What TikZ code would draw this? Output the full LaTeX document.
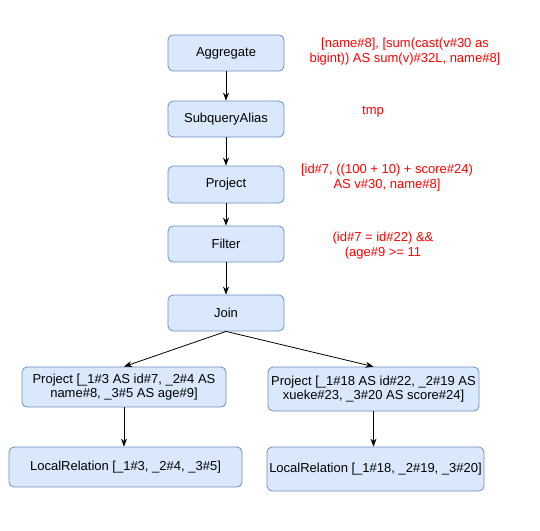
\documentclass[tikz,border=0pt]{standalone}
\usepackage{fontspec}
\setmainfont{Liberation Sans}
\usetikzlibrary{arrows.meta}
\definecolor{boxfill}{HTML}{DAE8FC}
\definecolor{boxline}{HTML}{6C8EBF}
\definecolor{redtxt}{HTML}{FF0000}
\begin{document}
\begin{tikzpicture}[x=1pt,y=-1pt,
  opbox/.style={draw=boxline,fill=boxfill,rounded corners=5pt,line width=0.8pt,align=center,inner sep=0pt,font=\fontsize{13}{14.5}\selectfont},
  note/.style={text=redtxt,align=center,font=\fontsize{13}{15}\selectfont},
  arr/.style={-{Stealth[length=8pt,width=6pt]},line width=0.8pt}]
\useasboundingbox (0,0) rectangle (540,530);
\node[opbox,minimum width=116pt,minimum height=36pt] (agg) at (226,53) {Aggregate};
\node[opbox,minimum width=116pt,minimum height=36pt] (sub) at (226,119) {SubqueryAlias};
\node[opbox,minimum width=116pt,minimum height=37pt] (proj) at (226,184.5) {Project};
\node[opbox,minimum width=116pt,minimum height=36pt] (filt) at (226,244) {Filter};
\node[opbox,minimum width=116pt,minimum height=36pt] (join) at (226,313) {Join};
\node[opbox,minimum width=204pt,minimum height=40pt] (lp) at (124,387) {Project [\_1\#3 AS id\#7, \_2\#4 AS\\name\#8, \_3\#5 AS age\#9]};
\node[opbox,minimum width=211pt,minimum height=44pt] (rp) at (373.5,389) {Project [\_1\#18 AS id\#22, \_2\#19 AS\\xueke\#23, \_3\#20 AS score\#24]};
\node[opbox,minimum width=233pt,minimum height=40pt] (ll) at (125.5,467) {LocalRelation [\_1\#3, \_2\#4, \_3\#5]};
\node[opbox,minimum width=217pt,minimum height=44pt] (rl) at (375.5,469) {LocalRelation [\_1\#18, \_2\#19, \_3\#20]};
\node[note] (nagg) at (405,51.5) {[name\#8], [sum(cast(v\#30 as\\bigint)) AS sum(v)\#32L, name\#8]};
\node[note] (nsub) at (373,112) {tmp};
\node[note] (nproj) at (387,177.5) {[id\#7, ((100 + 10) + score\#24)\\AS v\#30, name\#8]};
\node[note] (nfilt) at (383,245.5) {(id\#7 = id\#22) \&\&\\(age\#9 >= 11};
\draw[arr] (agg) -- (sub);
\draw[arr] (sub) -- (proj);
\draw[arr] (proj) -- (filt);
\draw[arr] (filt) -- (join);
\draw[arr] (join.south) -- (lp.north);
\draw[arr] (join.south) -- (rp.north);
\draw[arr] (lp.south) -- (ll.north -| lp.south);
\draw[arr] (rp.south) -- (rl.north -| rp.south);
\end{tikzpicture}
\end{document}
